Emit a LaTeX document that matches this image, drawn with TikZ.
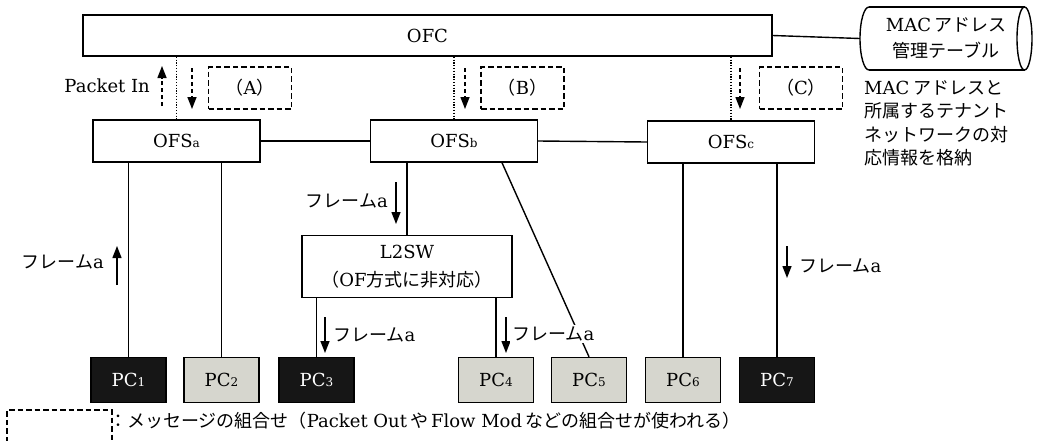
\documentclass[tikz,border=0pt]{standalone}
\usepackage{fontspec}
\setmainfont{DejaVu Serif}
\newfontfamily\jp{Noto Sans CJK JP}
\usetikzlibrary{arrows.meta,calc}
\definecolor{pcgray}{RGB}{214,214,206}
\definecolor{pcdark}{RGB}{22,22,22}
\newcommand\sbx[1]{{\fontsize{12}{12}\selectfont #1}}
\begin{document}
\begin{tikzpicture}[x=1pt,y=-1pt,
  every node/.style={font=\fontsize{18}{22}\selectfont, inner sep=0pt},
  box/.style={draw, line width=1.4pt, fill=white},
  ofsbox/.style={box, minimum width=167pt, minimum height=42pt},
  pcbox/.style={draw, line width=1.4pt, minimum width=75pt, minimum height=45pt},
  pcdk/.style={pcbox, fill=pcdark, text=white},
  pclt/.style={pcbox, fill=pcgray},
  msgbox/.style={draw, line width=1.6pt, dash pattern=on 5.5pt off 3pt, minimum width=83pt, minimum height=42pt},
  link/.style={line width=1.4pt},
  ctrl/.style={line width=1.2pt, dash pattern=on 1.3pt off 1.5pt},
  flow/.style={line width=1.4pt, -{Triangle[length=12pt,width=9pt]}},
  msgarrow/.style={flow, dash pattern=on 4pt off 3pt},
  lbl/.style={fill=white, inner sep=2pt}
]
\useasboundingbox (0,0) rectangle (1039,440);

% controller and table
\node[box, minimum width=689pt, minimum height=41pt] (ofc) at (427.5,35.5) {OFC};
\node[minimum width=172pt, minimum height=63pt, align=center, font=\fontsize{18}{26}\selectfont] (tbl) at (946,38.5)
  {MAC\,{\jp アドレス}\\{\jp 管理テーブル}};
\draw[line width=1.4pt] (869,7) -- (1024.5,7) (869,70) -- (1024.5,70);
\draw[line width=1.4pt] (869,7) arc[start angle=90, end angle=270, x radius=9pt, y radius=31.5pt];
\draw[line width=1.4pt] (1024.5,38.5) ellipse[x radius=7.5pt, y radius=31.5pt];
\draw[link] (ofc.east) -- (tbl.west);
\node[anchor=north west, align=left, font=\fontsize{18}{23.5}\selectfont] (note) at (864,80)
  {MAC{\jp\ アドレスと}\\{\jp 所属するテナント}\\{\jp ネットワークの対}\\{\jp 応情報を格納}};

% switches
\node[ofsbox] (ofsa) at (176.5,141) {OFS\sbx{a}};
\node[ofsbox] (ofsb) at (454,141) {OFS\sbx{b}};
\node[ofsbox] (ofsc) at (731,142) {OFS\sbx{c}};
\node[box, minimum width=210pt, minimum height=62pt, align=center, font=\fontsize{18}{28}\selectfont] (l2sw) at (407,266.5)
  {L2SW\\{\jp （}OF{\jp 方式に非対応）}};

% message boxes
\node[msgbox] (ma) at (250,88) {{\jp （}A{\jp ）}};
\node[msgbox] (mb) at (522.5,88) {{\jp （}B{\jp ）}};
\node[msgbox] (mc) at (801,88) {{\jp （}C{\jp ）}};

% PCs
\node[pcdk] (pc1) at (128.5,380) {PC\sbx{1}};
\node[pclt] (pc2) at (221.5,380) {PC\sbx{2}};
\node[pcdk] (pc3) at (316.5,380) {PC\sbx{3}};
\node[pclt] (pc4) at (496,380) {PC\sbx{4}};
\node[pclt] (pc5) at (589,380) {PC\sbx{5}};
\node[pclt] (pc6) at (683,380) {PC\sbx{6}};
\node[pcdk] (pc7) at (777,380) {PC\sbx{7}};

% control channels
\draw[ctrl] (ofc.south -| ofsa.north) -- (ofsa.north);
\draw[ctrl] (ofc.south -| ofsb.north) -- (ofsb.north);
\draw[ctrl] (ofc.south -| ofsc.north) -- (ofsc.north);

% links
\draw[link] (ofsa.east) -- (ofsb.west);
\draw[link] (ofsb.east) -- (ofsc.west);
\draw[link] (pc1.north |- ofsa.south) -- (pc1.north);
\draw[link] (pc2.north |- ofsa.south) -- (pc2.north);
\draw[link] (ofsb.south -| l2sw.north) -- (l2sw.north);
\draw[link] (pc3.north |- l2sw.south) -- (pc3.north);
\draw[link] (pc4.north |- l2sw.south) -- (pc4.north);
\draw[link] ($(ofsb.south)+(48,0)$) -- (pc5.north);
\draw[link] (pc6.north |- ofsc.south) -- (pc6.north);
\draw[link] (pc7.north |- ofsc.south) -- (pc7.north);

% message arrows
\coordinate (pis) at (162,106); \coordinate (pie) at (162,66);
\draw[msgarrow] (pis) -- (pie);
\node[anchor=east] (pin) at (150,86) {Packet In};
\coordinate (das) at (192,68); \coordinate (dae) at (192,109);
\coordinate (dbs) at (465,68); \coordinate (dbe) at (465,109);
\coordinate (dcs) at (740,68); \coordinate (dce) at (740,109);
\draw[msgarrow] (das) -- (dae);
\draw[msgarrow] (dbs) -- (dbe);
\draw[msgarrow] (dcs) -- (dce);

% frame labels
\coordinate (f1s) at (117,285); \coordinate (f1e) at (117,246);
\draw[flow] (f1s) -- (f1e);
\node[anchor=east] (fl1) at (104,262) {{\jp フレーム}a};
\coordinate (f2s) at (396,182); \coordinate (f2e) at (396,224);
\draw[flow] (f2s) -- (f2e);
\node[anchor=east] (fl2) at (388,201) {{\jp フレーム}a};
\coordinate (f3s) at (325,317); \coordinate (f3e) at (325,353);
\draw[flow] (f3s) -- (f3e);
\node[anchor=west] (fl3) at (333,335) {{\jp フレーム}a};
\coordinate (f4s) at (506,317); \coordinate (f4e) at (506,353);
\draw[flow] (f4s) -- (f4e);
\node[anchor=west, lbl] (fl4) at (510,334) {{\jp フレーム}a};
\coordinate (f7s) at (787,246); \coordinate (f7e) at (787,278);
\draw[flow] (f7s) -- (f7e);
\node[anchor=west] (fl7) at (799,266) {{\jp フレーム}a};

% legend
\draw[line width=1.6pt, dash pattern=on 5.5pt off 3pt] (7,442) -- (7,410) -- (112,410) -- (112,442);
\node[anchor=west] (leg) at (109,421)
  {{\jp ：メッセージの組合せ（}Packet Out\,{\jp や}\,Flow Mod\,{\jp などの組合せが使われる）}};
\end{tikzpicture}
\end{document}
